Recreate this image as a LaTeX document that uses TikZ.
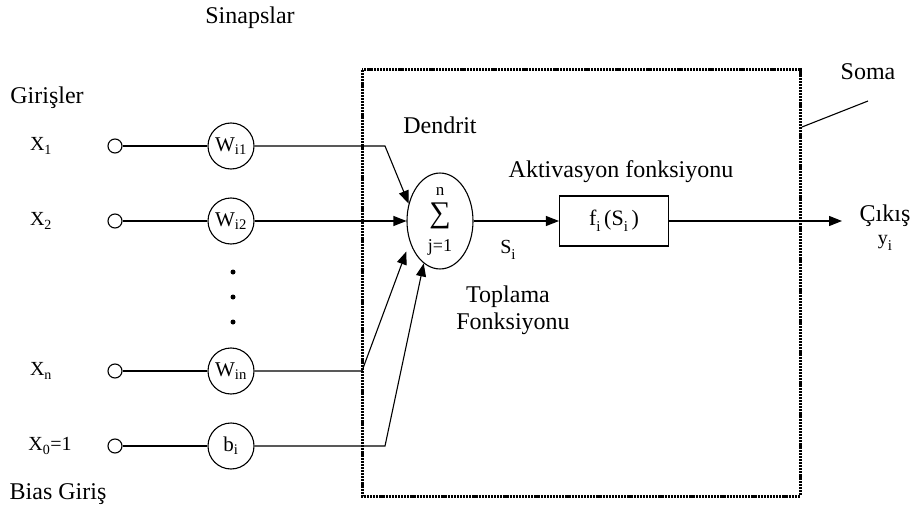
\documentclass[tikz,border=0pt]{standalone}
\usepackage{fontspec}
\setmainfont{Liberation Serif}
\usetikzlibrary{arrows.meta,shapes.geometric}

% lowered index, as in f_i(S_i)
\newcommand{\dn}[1]{\raisebox{-6pt}{\fontsize{15}{17}\selectfont #1}}

\begin{document}
\begin{tikzpicture}[x=1pt,y=-1pt,line width=1.1pt,
    every node/.style={font=\fontsize{24}{28}\selectfont},
    inp/.style={draw,circle,minimum size=14pt,inner sep=0pt},
    wgt/.style={draw,circle,minimum size=46pt,inner sep=0pt,font=\fontsize{21}{24}\selectfont},
    xlab/.style={font=\fontsize{20}{24}\selectfont},
    dot/.style={circle,fill,inner sep=0pt,minimum size=5pt},
    arr/.style={-{Triangle[length=13pt,width=10pt]}}]
    \useasboundingbox (0,0) rectangle (914,511);

    % soma
    \draw[line width=3pt, dash pattern=on 2.2pt off 0.9pt] (362,70) rectangle (800,496);

    \node (sinaps) at (250,18) {Sinapslar};
    \node (giris) at (47,98) {Girişler};
    \node (bias) at (58,494) {Bias Giriş};

    \node[xlab] (x1) at (41,146) {X\textsubscript{1}};
    \node[xlab] (x2) at (41,221) {X\textsubscript{2}};
    \node[xlab] (xn) at (41,371) {X\textsubscript{n}};
    \node[xlab] (x0) at (50,446) {X\textsubscript{0}=1};

    \node[inp] (i1) at (115,146) {};
    \node[inp] (i2) at (115,221) {};
    \node[inp] (in) at (115,371) {};
    \node[inp] (i0) at (115,446) {};

    \node[wgt] (w1) at (231,146) {W\textsubscript{i1}};
    \node[wgt] (w2) at (231,221) {W\textsubscript{i2}};
    \node[wgt] (wn) at (231,371) {W\textsubscript{in}};
    \node[wgt] (wb) at (231,446) {b\textsubscript{i}};

    \node[dot] (d1) at (233,272) {};
    \node[dot] (d2) at (233,297) {};
    \node[dot] (d3) at (233,322) {};

    \node[draw,ellipse,minimum width=66pt,minimum height=70pt,inner sep=0pt,align=center]
        (sum) at (440,221) {{\fontsize{17}{12}\selectfont n}\\[-1pt]
        {\fontsize{30}{22}\selectfont ∑}\\[1pt]{\fontsize{18}{14}\selectfont j=1}};
    \node[draw,rectangle,minimum width=109pt,minimum height=50pt,
        font=\fontsize{22}{24}\selectfont] (act) at (614,221) {f\dn{i}\,(S\dn{i}\,)};

    \node (dendrit) at (440,125) {Dendrit};
    \node (aktiv) at (621,172) {Aktivasyon fonksiyonu};
    \node[font=\fontsize{20}{24}\selectfont] (si) at (508,250) {S\dn{i}};
    \node (topl) at (508,297) {Toplama};
    \node (fonk) at (513,324) {Fonksiyonu};
    \node (cikis) at (885,216) {Çıkış};
    \node[font=\fontsize{20}{24}\selectfont] (yi) at (885,243) {y\dn{i}};
    \node (soma) at (868,72) {Soma};

    \coordinate (sm1) at (868,101);
    \coordinate (sm2) at (802,127);
    \draw (sm1) -- (sm2);

    \draw (i1) -- (w1);
    \draw (i2) -- (w2);
    \draw (in) -- (wn);
    \draw (i0) -- (wb);

    \coordinate (k1) at (385,146);
    \coordinate (kn) at (362,371);
    \coordinate (kb) at (385,446);
    \draw[arr] (w1) -- (k1) -- (sum.151);
    \draw[arr] (w2) -- (sum);
    \draw[arr, shorten >=10pt] (wn) -- (kn) -- (sum.215);
    \draw[arr] (wb) -- (kb) -- (sum.249);

    \coordinate (out) at (842,221);
    \draw[arr] (sum) -- (act);
    \draw[arr] (act) -- (out);
\end{tikzpicture}
\end{document}
